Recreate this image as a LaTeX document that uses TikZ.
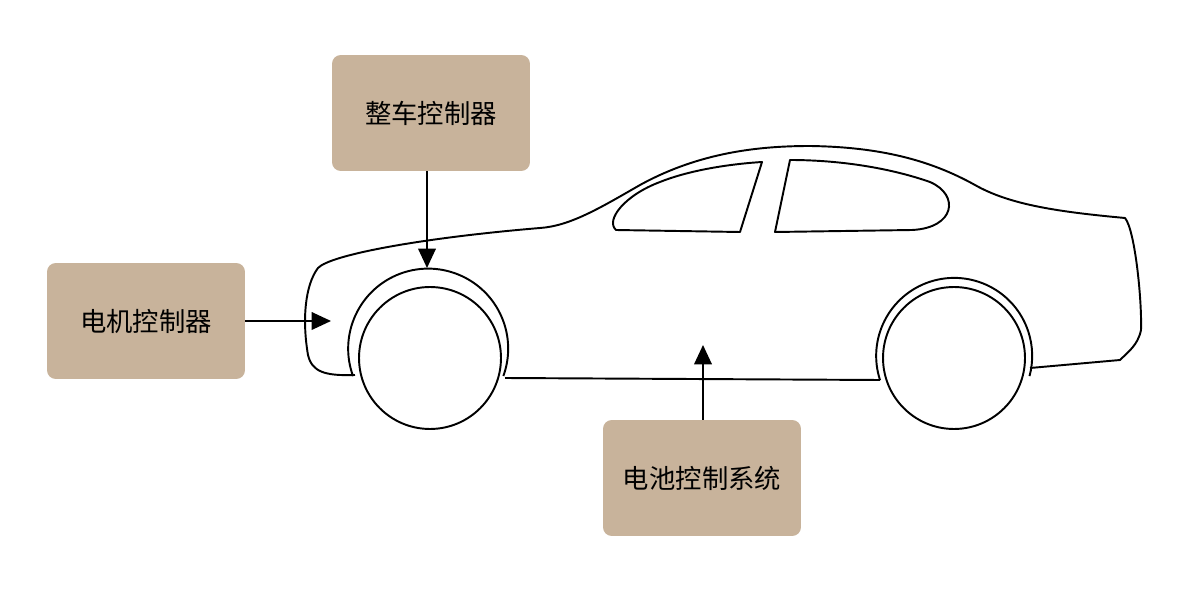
\documentclass[tikz,border=0pt]{standalone}
\usepackage{fontspec}
\setmainfont{Noto Sans CJK SC}
\usetikzlibrary{arrows.meta}
\definecolor{boxtan}{HTML}{C8B39B}
\begin{document}
\begin{tikzpicture}[x=0.02cm, y=-0.02cm,
unit/.style={rectangle, rounded corners=5pt, fill=boxtan, minimum width=3.96cm, minimum height=2.32cm, font=\fontsize{15}{18}\selectfont},
body/.style={line width=1.1pt, line join=round},
signal/.style={-{Triangle[length=11pt, width=10pt]}, line width=1pt},
]
\useasboundingbox (0,0) rectangle (1200,594);

\node[unit] (vcu) at (431,113) {整车控制器};
\node[unit] (mcu) at (146,321) {电机控制器};
\node[unit] (bms) at (702,478) {电池控制系统};

% car body
\draw[body] (355,375) .. controls (325,376) and (312,372) .. (308,355)
    .. controls (302,320) and (305,285) .. (318,268)
    .. controls (330,255) and (420,238) .. (540,228)
    .. controls (570,226) and (600,208) .. (640,185)
    .. controls (700,152) and (760,146) .. (810,146)
    .. controls (880,147) and (930,160) .. (975,185)
    .. controls (1010,205) and (1060,212) .. (1125,218)
    .. controls (1135,230) and (1142,300) .. (1141,330)
    .. controls (1138,345) and (1128,352) .. (1120,360)
    -- (1030,368);
\draw[body] (505,378) -- (880,380);
\draw[body] (353,376) arc[start angle=160, end angle=380, radius=80];
\draw[body] (880,380) arc[start angle=162, end angle=375, radius=78];
\node[circle, draw, line width=1.1pt, minimum size=2.84cm] (front) at (430,358) {};
\node[circle, draw, line width=1.1pt, minimum size=2.84cm] (rear) at (954,358) {};
% windows
\draw[body] (616,230) .. controls (605,220) and (625,195) .. (660,182)
    .. controls (690,170) and (730,164) .. (762,162)
    -- (740,232) -- cycle;
\draw[body] (790,160) -- (775,232) -- (912,230)
    .. controls (955,228) and (960,195) .. (930,182)
    .. controls (890,168) and (840,160) .. cycle;

\coordinate (hood) at (427,268);
\coordinate (nose) at (331,321);
\coordinate (floor) at (703,345);
\draw[signal] (vcu.south -| hood) -- (hood);
\draw[signal] (mcu.east) -- (nose);
\draw[signal] (bms.north -| floor) -- (floor);
\end{tikzpicture}
\end{document}
